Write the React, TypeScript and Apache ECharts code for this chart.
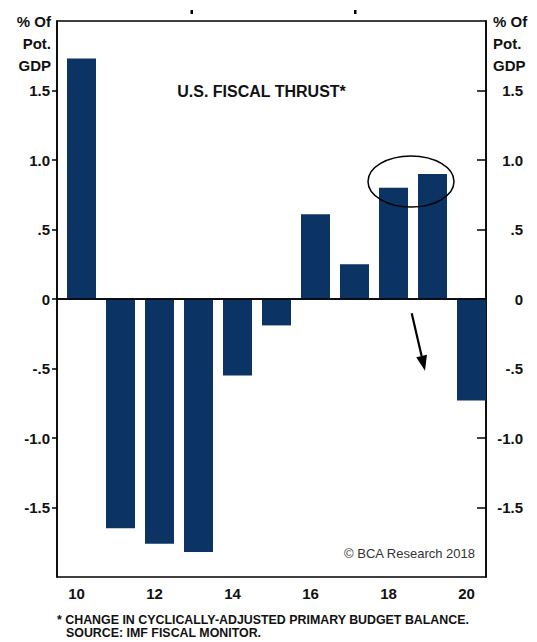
import React, { useEffect, useRef } from "react";
import * as echarts from "echarts";

const categories = ["10", "11", "12", "13", "14", "15", "16", "17", "18", "19", "20"];
const fiscalThrust = [1.73, -1.65, -1.76, -1.82, -0.55, -0.19, 0.61, 0.25, 0.8, 0.9, -0.73];
const yTicks = [-1.5, -1, -0.5, 0, 0.5, 1, 1.5];
const axisNameLines = ["% Of", "Pot.", "GDP"];
const titleText = "U.S. FISCAL THRUST*";
const creditText = "\u00A9 BCA Research 2018";
const footnoteLines = [
  "* CHANGE IN CYCLICALLY-ADJUSTED PRIMARY BUDGET BALANCE.",
  "SOURCE: IMF FISCAL MONITOR.",
];

const FONT = '"Liberation Sans", Arial, Helvetica, sans-serif';
const NAVY = "#0b3364";
const INK = "#111111";

const fmt = (v: number) => {
  if (v === 0) return "0";
  if (Math.abs(v) < 1) return (v < 0 ? "-" : "") + ".5";
  return v.toFixed(1);
};

export default function App() {
  const ref = useRef<HTMLDivElement>(null);
  useEffect(() => {
    if (!ref.current) return;
    const chart = echarts.init(ref.current, undefined, { renderer: "svg" });
    const labelStyle = {
      fontFamily: FONT,
      fontWeight: "bold" as const,
      fontSize: 15,
      color: INK,
    };
    const nameTexts: any[] = [];
    axisNameLines.forEach((t, i) => {
      nameTexts.push({
        type: "text",
        x: 51,
        y: 21 + i * 22,
        style: { text: t, align: "right", verticalAlign: "middle", fill: INK, font: `bold 15px ${FONT}` },
      });
      nameTexts.push({
        type: "text",
        x: 493,
        y: 21 + i * 22,
        style: { text: t, align: "left", verticalAlign: "middle", fill: INK, font: `bold 15px ${FONT}` },
      });
    });
    // arrow geometry
    const start = [411.7, 313.3];
    const tip = [425, 370.7];
    const dx = tip[0] - start[0];
    const dy = tip[1] - start[1];
    const len = Math.sqrt(dx * dx + dy * dy);
    const ux = dx / len;
    const uy = dy / len;
    const headLen = 15;
    const headHalf = 5.5;
    const base = [tip[0] - ux * headLen, tip[1] - uy * headLen];
    const px = uy;
    const py = -ux;

    chart.setOption({
      animation: false,
      grid: {
        left: 57,
        right: 51,
        top: 21,
        bottom: 65,
        show: true,
        borderColor: "#000",
        borderWidth: 1.5,
        backgroundColor: "transparent",
      },
      xAxis: {
        type: "category",
        data: categories,
        boundaryGap: true,
        axisLine: { lineStyle: { color: "#000", width: 1.5 } },
        axisTick: { inside: true, length: 12, lineStyle: { color: "#000", width: 1.5 } },
        axisLabel: { ...labelStyle, interval: 1, margin: 9 },
        splitLine: { show: false },
      },
      yAxis: [
        {
          type: "value",
          position: "left",
          min: -2,
          max: 2,
          interval: 0.5,
          splitLine: { show: false },
          axisLine: { show: true, lineStyle: { color: "#000", width: 1.5 } },
          axisTick: { show: true, length: 5, customValues: yTicks, lineStyle: { color: "#000", width: 1.5 } },
          axisLabel: { ...labelStyle, customValues: yTicks, formatter: fmt, margin: 7 },
        },
        {
          type: "value",
          position: "right",
          min: -2,
          max: 2,
          interval: 0.5,
          splitLine: { show: false },
          axisLine: { show: true, lineStyle: { color: "#000", width: 1.5 } },
          axisTick: { show: true, inside: true, length: 9, customValues: yTicks, lineStyle: { color: "#000", width: 1.5 } },
          axisLabel: { ...labelStyle, customValues: yTicks, formatter: fmt, margin: 37, align: "right" },
        },
      ],
      series: [
        {
          type: "bar",
          name: "spacer",
          data: categories.map(() => "-"),
          barWidth: 10,
          silent: true,
          itemStyle: { color: "transparent" },
        },
        {
          type: "bar",
          name: "Fiscal thrust",
          data: fiscalThrust,
          barWidth: 29,
          barGap: "0%",
          itemStyle: { color: NAVY },
          markLine: {
            silent: true,
            symbol: ["none", "none"],
            label: { show: false },
            lineStyle: { color: "#000", width: 1.5, type: "solid" },
            data: [{ yAxis: 0 }],
          },
        },
      ],
      graphic: [
        ...nameTexts,
        {
          type: "text",
          x: 261.5,
          y: 91,
          style: { text: titleText, align: "center", verticalAlign: "middle", fill: INK, font: `bold 16px ${FONT}` },
        },
        {
          type: "text",
          x: 475,
          y: 553,
          style: { text: creditText, align: "right", verticalAlign: "middle", fill: "#333", font: `13px ${FONT}` },
        },
        {
          type: "text",
          x: 57,
          y: 620,
          style: { text: footnoteLines[0], align: "left", verticalAlign: "middle", fill: INK, font: `bold 12.4px ${FONT}` },
        },
        {
          type: "text",
          x: 66,
          y: 633,
          style: { text: footnoteLines[1], align: "left", verticalAlign: "middle", fill: INK, font: `bold 12.4px ${FONT}` },
        },
        {
          type: "ellipse",
          shape: { cx: 411, cy: 181.5, rx: 43, ry: 25.5 },
          style: { fill: "none", stroke: "#000", lineWidth: 1.5 },
          z: 100,
        },
        {
          type: "line",
          shape: { x1: start[0], y1: start[1], x2: base[0], y2: base[1] },
          style: { stroke: "#000", lineWidth: 2.2 },
          z: 100,
        },
        {
          type: "polygon",
          shape: {
            points: [
              [tip[0], tip[1]],
              [base[0] + px * headHalf, base[1] + py * headHalf],
              [base[0] - px * headHalf, base[1] - py * headHalf],
            ],
          },
          style: { fill: "#000" },
          z: 100,
        },
        { type: "rect", shape: { x: 190.5, y: 10, width: 2.5, height: 4 }, style: { fill: "#000" } },
        { type: "rect", shape: { x: 354, y: 10, width: 2.5, height: 4 }, style: { fill: "#000" } },
      ],
    });
    return () => chart.dispose();
  }, []);
  return (
    <div
      ref={ref}
      style={{ position: "absolute", left: 0, top: 0, width: 537, height: 642, background: "#fff" }}
    />
  );
}
